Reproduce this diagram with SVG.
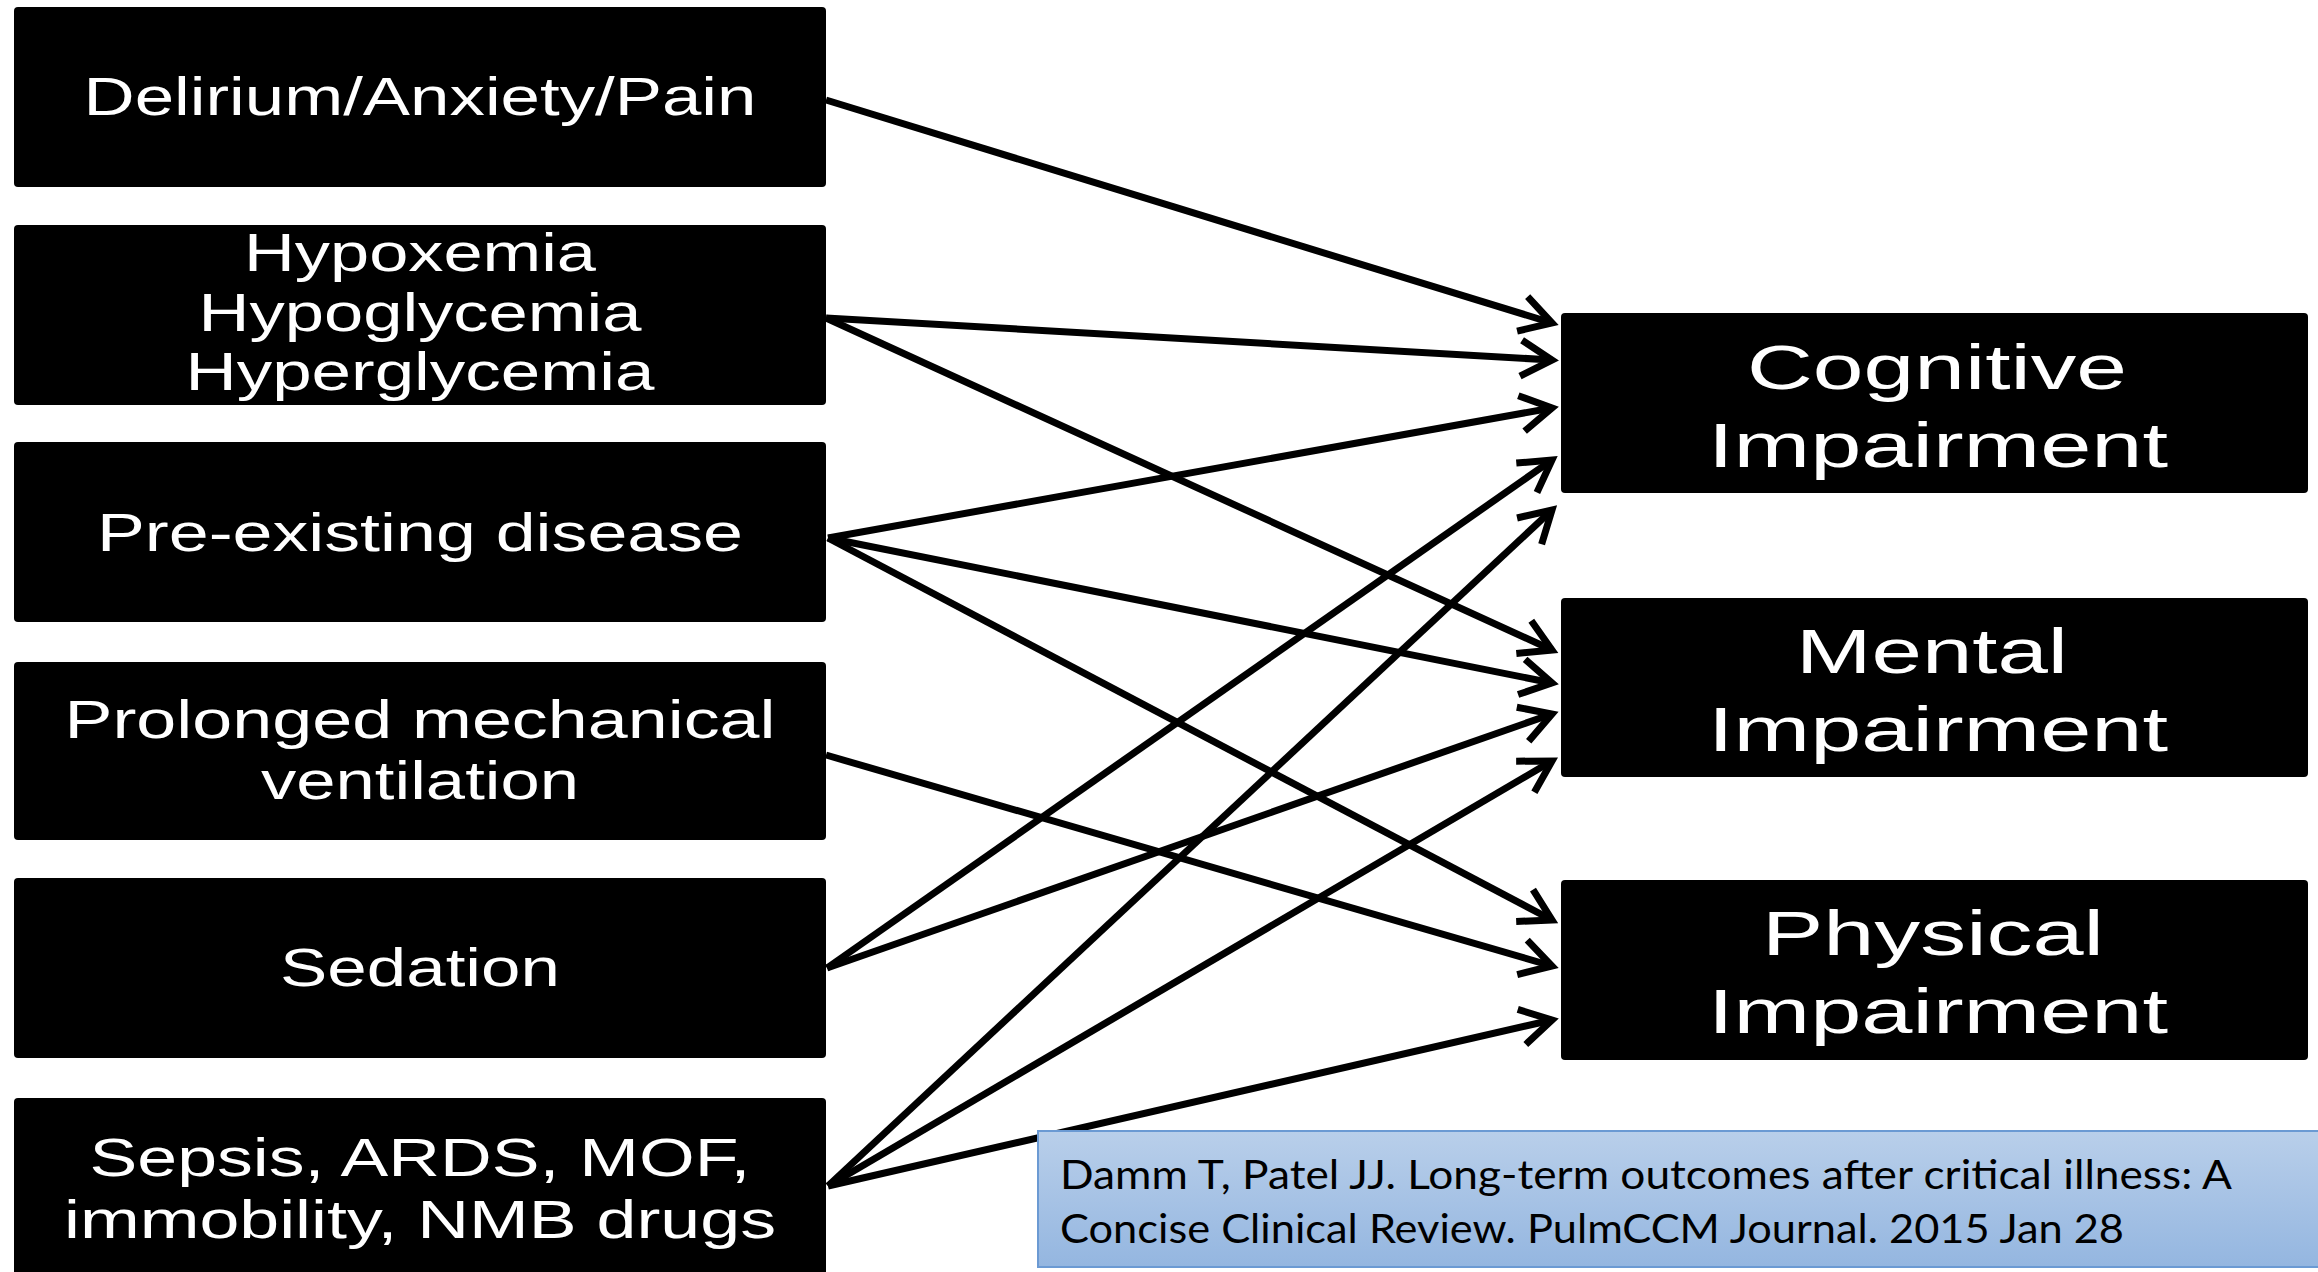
<svg xmlns="http://www.w3.org/2000/svg" width="2318" height="1272" viewBox="0 0 2318 1272">
  <style>
    .box { fill: #000; }
    .lt { font-family: "Liberation Sans", Arial, sans-serif; font-size: 53px; fill: #fff; text-anchor: middle; }
    .rt { font-family: "Liberation Sans", Arial, sans-serif; font-size: 63px; fill: #fff; text-anchor: middle; }
    .cite { font-family: Lato, "Open Sans", sans-serif; font-size: 40px; fill: #000; }
    .conn line { stroke: #000; stroke-width: 7; fill: none; marker-end: url(#ah); }
  </style>
  <defs>
    <marker id="ah" markerUnits="userSpaceOnUse" orient="auto" refX="0" refY="0" markerWidth="1" markerHeight="1" overflow="visible">
      <path d="M-31,-18 L0,0 L-31,18" fill="none" stroke="#000" stroke-width="7"/>
    </marker>
    <linearGradient id="citeGrad" x1="0" y1="0" x2="0" y2="1">
      <stop offset="0" stop-color="#b9cfea"/>
      <stop offset="1" stop-color="#94b6e0"/>
    </linearGradient>
  </defs>
  <rect width="2318" height="1272" fill="#fff"/>

  <g id="connectors" class="conn">
    <line x1="826" y1="100" x2="1552" y2="323"/>
    <line x1="826" y1="318" x2="1552" y2="360"/>
    <line x1="826" y1="318" x2="1552" y2="650"/>
    <line x1="828" y1="538" x2="1552" y2="408"/>
    <line x1="828" y1="538" x2="1552" y2="683"/>
    <line x1="828" y1="538" x2="1552" y2="920"/>
    <line x1="826" y1="755" x2="1552" y2="966"/>
    <line x1="827" y1="968" x2="1552" y2="460"/>
    <line x1="827" y1="968" x2="1552" y2="714"/>
    <line x1="828" y1="1186" x2="1552" y2="510"/>
    <line x1="828" y1="1186" x2="1552" y2="761"/>
    <line x1="828" y1="1186" x2="1552" y2="1020"/>
  </g>

  <g id="n-delirium">
    <rect class="box" x="14" y="7" width="812" height="180" rx="4"/>
    <text class="lt" x="420" y="115" textLength="673" lengthAdjust="spacingAndGlyphs">Delirium/Anxiety/Pain</text>
  </g>
  <g id="n-hypox">
    <rect class="box" x="14" y="225" width="812" height="180" rx="4"/>
    <text class="lt" x="420" y="271" textLength="352" lengthAdjust="spacingAndGlyphs">Hypoxemia</text>
    <text class="lt" x="420" y="331" textLength="443" lengthAdjust="spacingAndGlyphs">Hypoglycemia</text>
    <text class="lt" x="420" y="390" textLength="469" lengthAdjust="spacingAndGlyphs">Hyperglycemia</text>
  </g>
  <g id="n-preexisting">
    <rect class="box" x="14" y="442" width="812" height="180" rx="4"/>
    <text class="lt" x="420" y="551" textLength="646" lengthAdjust="spacingAndGlyphs">Pre-existing disease</text>
  </g>
  <g id="n-prolonged">
    <rect class="box" x="14" y="662" width="812" height="178" rx="4"/>
    <text class="lt" x="420" y="738" textLength="711" lengthAdjust="spacingAndGlyphs">Prolonged mechanical</text>
    <text class="lt" x="420" y="799" textLength="318" lengthAdjust="spacingAndGlyphs">ventilation</text>
  </g>
  <g id="n-sedation">
    <rect class="box" x="14" y="878" width="812" height="180" rx="4"/>
    <text class="lt" x="420" y="986" textLength="280" lengthAdjust="spacingAndGlyphs">Sedation</text>
  </g>
  <g id="n-sepsis">
    <rect class="box" x="14" y="1098" width="812" height="184" rx="4"/>
    <text class="lt" x="420" y="1176" textLength="661" lengthAdjust="spacingAndGlyphs">Sepsis, ARDS, MOF,</text>
    <text class="lt" x="420" y="1238" textLength="712" lengthAdjust="spacingAndGlyphs">immobility, NMB drugs</text>
  </g>

  <g id="n-cognitive">
    <rect class="box" x="1561" y="313" width="747" height="180" rx="4"/>
    <text class="rt" x="1937" y="389" textLength="380" lengthAdjust="spacingAndGlyphs">Cognitive</text>
    <text class="rt" x="1938" y="467" textLength="460" lengthAdjust="spacingAndGlyphs">Impairment</text>
  </g>
  <g id="n-mental">
    <rect class="box" x="1561" y="598" width="747" height="179" rx="4"/>
    <text class="rt" x="1932" y="673" textLength="272" lengthAdjust="spacingAndGlyphs">Mental</text>
    <text class="rt" x="1938" y="751" textLength="460" lengthAdjust="spacingAndGlyphs">Impairment</text>
  </g>
  <g id="n-physical">
    <rect class="box" x="1561" y="880" width="747" height="180" rx="4"/>
    <text class="rt" x="1933" y="955" textLength="342" lengthAdjust="spacingAndGlyphs">Physical</text>
    <text class="rt" x="1938" y="1033" textLength="460" lengthAdjust="spacingAndGlyphs">Impairment</text>
  </g>

  <g id="citation">
    <rect x="1038" y="1131" width="1290" height="136" fill="url(#citeGrad)" stroke="#6b9ad3" stroke-width="2"/>
    <text class="cite" x="1060" y="1189" textLength="1172" lengthAdjust="spacingAndGlyphs">Damm T, Patel JJ. Long-term outcomes after critical illness: A</text>
    <text class="cite" x="1060" y="1243" textLength="1064" lengthAdjust="spacingAndGlyphs">Concise Clinical Review. PulmCCM Journal. 2015 Jan 28</text>
  </g>
</svg>
